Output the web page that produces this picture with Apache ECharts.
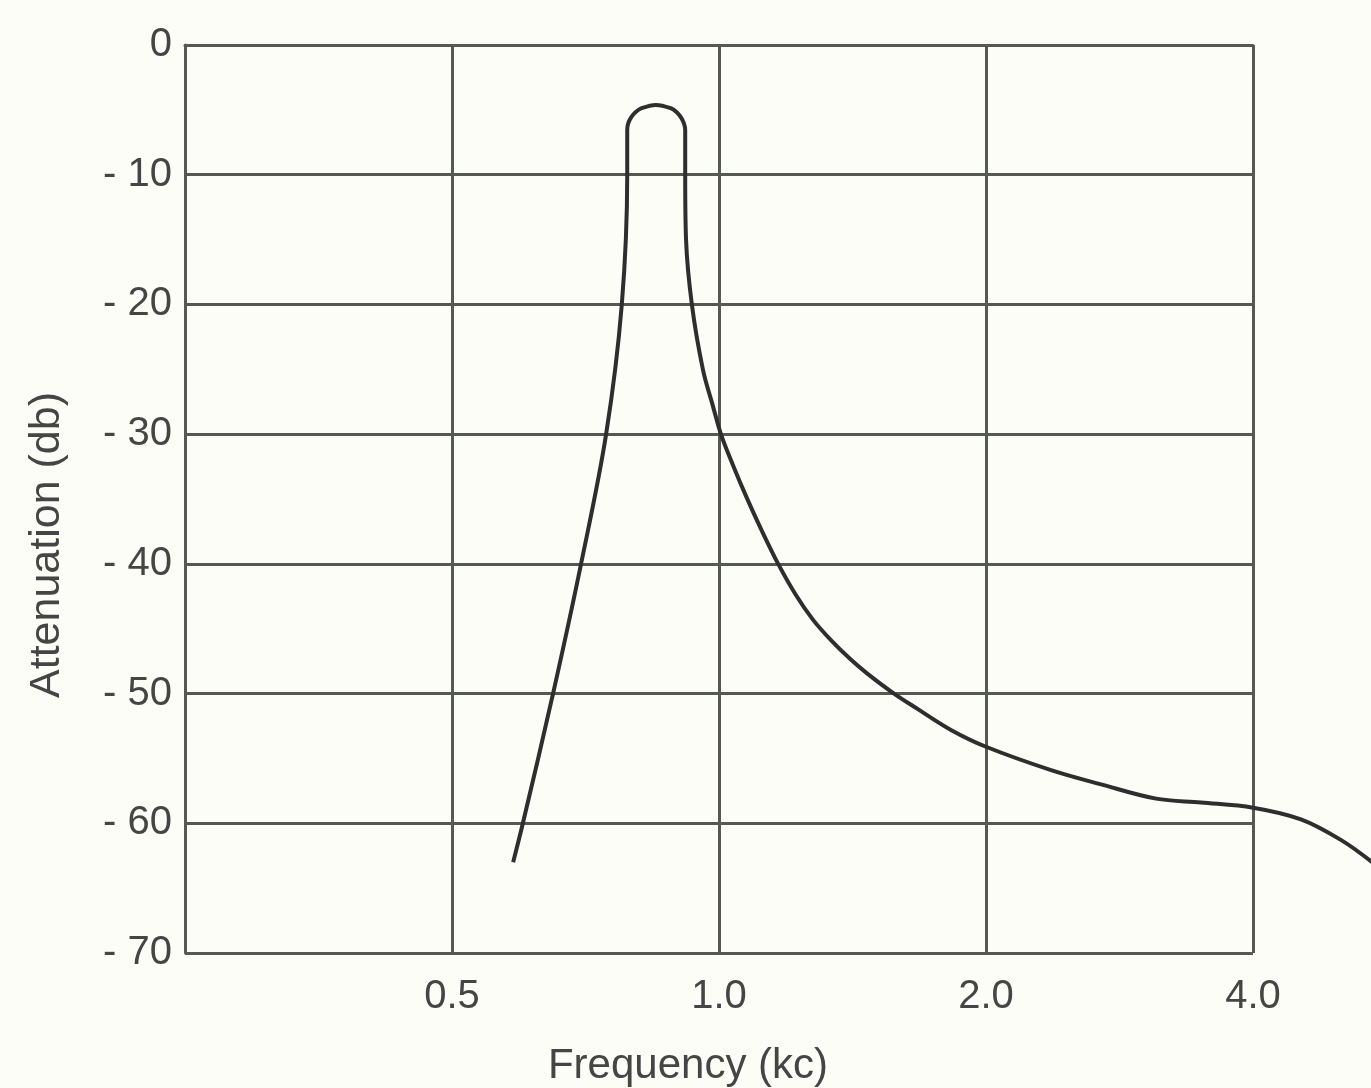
<!DOCTYPE html>
<html>
<head>
<meta charset="utf-8">
<title>Attenuation vs frequency</title>
<script src="https://cdn.jsdelivr.net/npm/echarts@6/dist/echarts.min.js"></script>
<style>
  html, body { margin: 0; padding: 0; background: #fdfdf7; }
  #chart { width: 1371px; height: 1088px; }
</style>
</head>
<body>
<div id="chart"></div>
<script>
// frequency in kc, attenuation in db
var freqs = [0.586, 0.601, 0.650, 0.699, 0.746, 0.777, 0.788,
  0.788, 0.790, 0.796, 0.805, 0.818, 0.849, 0.882, 0.896, 0.906, 0.913, 0.916,
  0.916, 0.918, 0.932, 0.959, 0.984, 1.005, 1.037, 1.073, 1.115, 1.166,
  1.221, 1.276, 1.338, 1.409, 1.472, 1.575, 1.676, 1.826, 2.0,
  2.368, 2.696, 3.110, 3.495, 4.0, 4.53, 5.03, 5.45];
var atten = [-63.0, -60.0, -50.0, -40.0, -30.0, -20.0, -10.0,
  -6.54, -6.04, -5.58, -5.18, -4.87, -4.62, -4.87, -5.18, -5.58, -6.04, -6.54,
  -10.0, -15.0, -20.0, -25.0, -27.8, -30.0, -32.4, -34.8, -37.3, -40.0,
  -42.4, -44.3, -45.9, -47.4, -48.5, -50.0, -51.2, -52.8, -54.1,
  -55.9, -57.0, -58.1, -58.4, -58.8, -59.7, -61.3, -63.0];

var xTicks = [0.25, 0.5, 1, 2, 4];
var xTickLabels = ['', '0.5', '1.0', '2.0', '4.0'];
var yTicks = [0, -10, -20, -30, -40, -50, -60, -70];
var yTickLabels = ['0', '- 10', '- 20', '- 30', '- 40', '- 50', '- 60', '- 70'];

var ink = '#454545';
var gridInk = '#555853';
var font = 'Liberation Sans';

var points = freqs.map(function (f, i) { return [f, atten[i]]; });

function lookup(ticks, labels, v) {
  for (var i = 0; i < ticks.length; i++) {
    if (Math.abs(ticks[i] - v) < 1e-6) return labels[i];
  }
  return '';
}

// the curve runs past 4.0 kc off the frame, so it sits on a hidden,
// wider copy of the same log axis (one octave = one grid column)
var octave = 267;

var chart = echarts.init(document.getElementById('chart'));
chart.setOption({
  backgroundColor: '#fdfdf7',
  animation: false,
  grid: [
    { left: 185, width: octave * 4, top: 45, bottom: 135, outerBoundsMode: 'none' },
    { left: 185, width: octave * 5, top: 45, bottom: 135, outerBoundsMode: 'none' }
  ],
  xAxis: [{
    type: 'log',
    logBase: 2,
    min: 0.25,
    max: 4,
    splitNumber: 4,
    name: 'Frequency (kc)',
    nameLocation: 'middle',
    nameGap: 92,
    nameTextStyle: { color: ink, fontSize: 42, fontFamily: font, padding: [0, 62, 0, 0] },
    axisLine: { show: true, lineStyle: { color: gridInk, width: 3 } },
    axisTick: { show: false },
    axisLabel: {
      color: ink, fontSize: 40, fontFamily: font, margin: 24,
      formatter: function (v) { return lookup(xTicks, xTickLabels, v); }
    },
    splitLine: { show: true, lineStyle: { color: gridInk, width: 3 } },
    minorTick: { show: false }
  }, {
    type: 'log',
    logBase: 2,
    gridIndex: 1,
    min: 0.25,
    max: 8,
    show: false
  }],
  yAxis: [{
    type: 'value',
    min: -70,
    max: 0,
    interval: 10,
    name: 'Attenuation (db)',
    nameLocation: 'middle',
    nameGap: 116,
    nameRotate: 90,
    nameTextStyle: { color: ink, fontSize: 43, fontFamily: font, padding: [0, 92, 0, 0] },
    axisLine: { show: true, lineStyle: { color: gridInk, width: 3 } },
    axisTick: { show: false },
    axisLabel: {
      color: ink, fontSize: 40, fontFamily: font, margin: 13,
      formatter: function (v) { return lookup(yTicks, yTickLabels, v); }
    },
    splitLine: { show: true, lineStyle: { color: gridInk, width: 3 } }
  }, {
    type: 'value',
    gridIndex: 1,
    min: -70,
    max: 0,
    interval: 10,
    show: false
  }],
  series: [{
    type: 'line',
    xAxisIndex: 1,
    yAxisIndex: 1,
    data: points,
    smooth: 0.35,
    showSymbol: false,
    lineStyle: { color: '#2e2e2e', width: 4 }
  }]
});
</script>
</body>
</html>
